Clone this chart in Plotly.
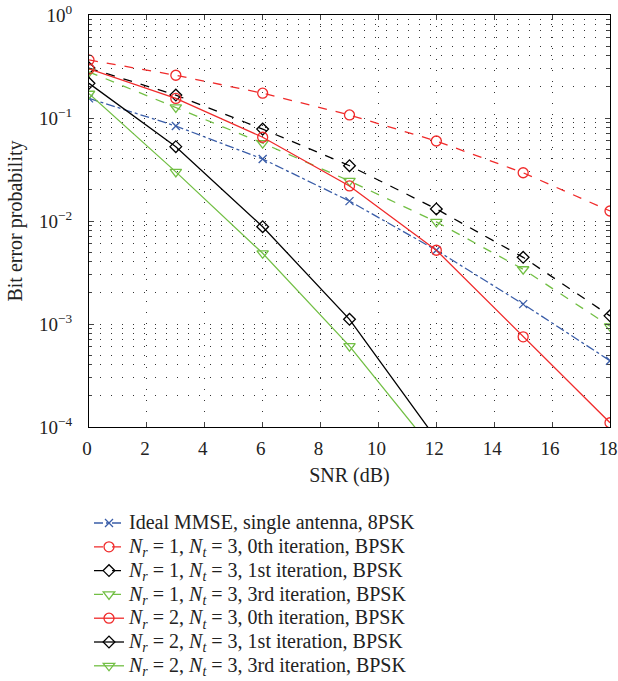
import plotly.graph_objects as go

snr = [0, 3, 6, 9, 12, 15, 18]

mmse = [0.155, 0.0836, 0.040, 0.0156, 0.0052, 0.00156, 0.00044]
nr1_it0 = [0.366, 0.26, 0.174, 0.107, 0.0598, 0.0294, 0.0125]
nr1_it1 = [0.305, 0.167, 0.078, 0.0344, 0.0131, 0.00444, 0.0012]
nr1_it3 = [0.28, 0.127, 0.057, 0.0245, 0.0098, 0.0034, 0.00095]
nr2_it0 = [0.30, 0.155, 0.065, 0.0219, 0.0052, 0.00075, 0.00011]
nr2_it1 = [0.217, 0.0527, 0.0088, 0.00111, 0.0000765]
nr2_it3 = [0.172, 0.030, 0.00486, 0.00061, 0.000055]

names = [
    "Ideal MMSE, single antenna, 8PSK",
    "<i>N<sub>r</sub></i> = 1, <i>N<sub>t</sub></i> = 3, 0th iteration, BPSK",
    "<i>N<sub>r</sub></i> = 1, <i>N<sub>t</sub></i> = 3, 1st iteration, BPSK",
    "<i>N<sub>r</sub></i> = 1, <i>N<sub>t</sub></i> = 3, 3rd iteration, BPSK",
    "<i>N<sub>r</sub></i> = 2, <i>N<sub>t</sub></i> = 3, 0th iteration, BPSK",
    "<i>N<sub>r</sub></i> = 2, <i>N<sub>t</sub></i> = 3, 1st iteration, BPSK",
    "<i>N<sub>r</sub></i> = 2, <i>N<sub>t</sub></i> = 3, 3rd iteration, BPSK",
]

BLUE = "#3a5da8"
RED = "#f02a2a"
BLACK = "#000000"
GREEN = "#72bf44"

series = [
    (mmse, BLUE, "dashdot", "x-thin-open", 8),
    (nr1_it0, RED, "dash", "circle-open", 10),
    (nr1_it1, BLACK, "dash", "diamond-open", 9),
    (nr1_it3, GREEN, "dash", "triangle-down-open", 10),
    (nr2_it0, RED, "solid", "circle-open", 10),
    (nr2_it1, BLACK, "solid", "diamond-open", 9),
    (nr2_it3, GREEN, "solid", "triangle-down-open", 10),
]

fig = go.Figure()
for (vals, col, dash, sym, sz), nm in zip(series, names):
    fig.add_trace(go.Scatter(
        x=snr[:len(vals)], y=vals,
        name='<span style="font-size:20px">' + nm + '</span>',
        mode="lines+markers",
        line=dict(color=col, dash=dash, width=1.3),
        marker=dict(symbol=sym, size=sz, color=col, line=dict(color=col, width=1.3)),
        cliponaxis=True,
    ))

font = "Liberation Serif, Times New Roman, serif"
DOTS = "1px,10px"
grid = dict(showgrid=True, gridcolor="#333", gridwidth=1, griddash=DOTS)

fig.update_layout(
    width=618, height=681,
    margin=dict(l=89, r=8, t=15, b=254, autoexpand=False),
    paper_bgcolor="white", plot_bgcolor="white",
    font=dict(family=font, size=20, color="#222"),
    showlegend=True,
    legend=dict(x=0.0, y=-0.192, xanchor="left", yanchor="top",
                bgcolor="rgba(0,0,0,0)", font=dict(family=font, size=16),
                tracegroupgap=0, itemwidth=30),
)
fig.update_xaxes(
    range=[0, 18], dtick=2, tick0=0, ticks="inside", ticklen=5,
    showline=True, linecolor="black", linewidth=1.3, mirror="allticks",
    tickfont=dict(size=19), ticklabeloverflow="allow", ticklabelstandoff=4,
    ticklabelshift=-2,
    title=dict(text="SNR (dB)", font=dict(size=20), standoff=10),
    zeroline=False, **grid,
)
fig.update_yaxes(
    type="log", range=[-4, 0],
    tickvals=[1, 0.1, 0.01, 0.001, 0.0001],
    ticktext=["10<sup>0</sup>", "10<sup>\u22121</sup>", "10<sup>\u22122</sup>",
              "10<sup>\u22123</sup>", "10<sup>\u22124</sup>"],
    ticks="inside", ticklen=5, tickfont=dict(size=19),
    ticklabeloverflow="allow", ticklabelstandoff=12,
    showline=True, linecolor="black", linewidth=1.3, mirror="allticks",
    title=dict(text="Bit error probability", font=dict(size=20), standoff=10),
    minor=dict(dtick="D1", ticks="inside", ticklen=3, showgrid=True,
               gridcolor="#333", griddash=DOTS),
    zeroline=False, **grid,
)

fig.write_html("out.html", config={"displayModeBar": False},
               post_script="document.body.style.margin='0';")
